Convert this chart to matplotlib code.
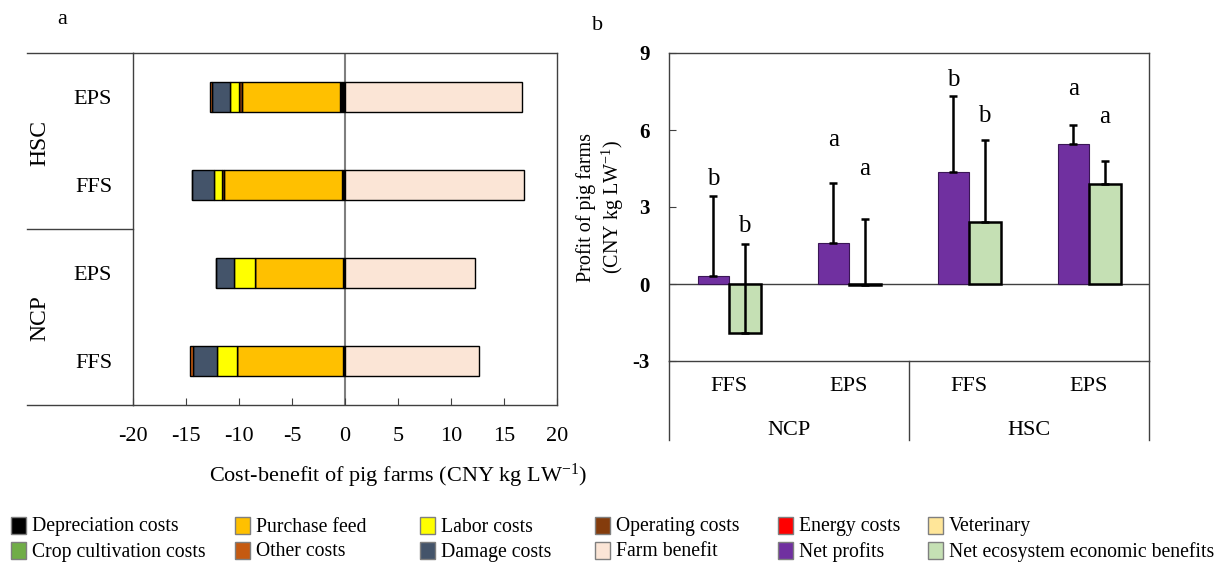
import numpy as np
import matplotlib
matplotlib.use("Agg")
import matplotlib.pyplot as plt
from matplotlib.patches import Rectangle

plt.rcParams['font.family'] = ['Liberation Serif', 'DejaVu Serif']
plt.rcParams['mathtext.fontset'] = 'custom'
plt.rcParams['mathtext.rm'] = 'Liberation Serif'
plt.rcParams['mathtext.it'] = 'Liberation Serif:italic'
plt.rcParams['axes.unicode_minus'] = False

# ---- panel a: cost / benefit per farm type (rows bottom to top) ----
rows_a = ["FFS", "EPS", "FFS", "EPS"]
regions_a = ["NCP", "HSC"]
depreciation = [0.15, 0.20, 0.32, 0.45]
purchase_feed = [10.05, 8.30, 11.05, 9.30]
energy = [0.0, 0.0, 0.0, 0.0]
operating = [0.0, 0.0, 0.23, 0.28]
labor = [1.90, 2.00, 0.72, 0.79]
veterinary = [0.0, 0.0, 0.0, 0.0]
crop_cultivation = [0.0, 0.0, 0.0, 0.0]
damage = [2.27, 1.70, 2.15, 1.74]
other = [0.22, 0.0, 0.0, 0.22]
farm_benefit = [12.66, 12.26, 16.93, 16.68]

# ---- panel b: profits ----
sites_b = ["FFS", "EPS", "FFS", "EPS"]
regions_b = ["NCP", "HSC"]
net_profit = [0.30, 1.58, 4.35, 5.47]
net_profit_sd = [3.14, 2.37, 2.96, 0.71]
neeb = [-1.90, -0.03, 2.40, 3.91]
neeb_sd = [3.47, 2.56, 3.22, 0.87]
profit_letters = ["b", "a", "b", "a"]
neeb_letters = ["b", "a", "b", "a"]

colors = {
    "Depreciation costs": "#000000",
    "Purchase feed": "#FFC000",
    "Labor costs": "#FFFF00",
    "Operating costs": "#843C0C",
    "Energy costs": "#FF0000",
    "Veterinary": "#FFE699",
    "Crop cultivation costs": "#70AD47",
    "Other costs": "#C55A11",
    "Damage costs": "#44546A",
    "Farm benefit": "#FBE5D6",
    "Net profits": "#7030A0",
    "Net ecosystem economic benefits": "#C5E0B4",
}

W, H = 1222, 564
fig = plt.figure(figsize=(W / 100, H / 100), dpi=100)


def fx(px):
    return px / W


def fy(py):
    return 1 - py / H


frame = '#404040'

# ================= panel a =================
ax_a = fig.add_axes([fx(133), fy(405), fx(557) - fx(133), fy(53) - fy(405)])
y = np.arange(len(rows_a))
cost_series = [
    (depreciation, "Depreciation costs"),
    (purchase_feed, "Purchase feed"),
    (energy, "Energy costs"),
    (operating, "Operating costs"),
    (labor, "Labor costs"),
    (veterinary, "Veterinary"),
    (crop_cultivation, "Crop cultivation costs"),
    (damage, "Damage costs"),
    (other, "Other costs"),
]
left = np.zeros(len(rows_a))
for vals, name in cost_series:
    vals = np.array(vals)
    if vals.sum() == 0:
        continue
    ax_a.barh(y, -vals, left=left, height=0.34, color=colors[name],
              edgecolor='black', linewidth=1, zorder=2)
    left = left - vals
ax_a.barh(y, farm_benefit, left=0, height=0.34, color=colors["Farm benefit"],
          edgecolor='black', linewidth=1, zorder=2)
ax_a.axvline(0, color='#7f7f7f', lw=1.5, zorder=1)

ax_a.set_xlim(-20, 20)
ax_a.set_ylim(-0.5, 3.5)
ax_a.set_xticks(range(-20, 21, 5))
ax_a.set_yticks(y)
ax_a.set_yticklabels(rows_a)
ax_a.tick_params(axis='x', direction='in', length=5, pad=16, labelsize=16, color=frame)
ax_a.tick_params(axis='y', length=0, pad=15, labelsize=16)
for sp in ax_a.spines.values():
    sp.set_color(frame)
    sp.set_linewidth(1)

# group label strip on the left
for yy in (0, 0.5, 1):
    ax_a.plot([-0.25, 0], [yy, yy], transform=ax_a.transAxes, clip_on=False,
              color=frame, lw=1)
ax_a.text(-0.219, 0.247, regions_a[0], transform=ax_a.transAxes, rotation=90,
          ha='center', va='center', fontsize=17)
ax_a.text(-0.219, 0.744, regions_a[1], transform=ax_a.transAxes, rotation=90,
          ha='center', va='center', fontsize=17)
ax_a.text(0.625, -0.2, "Cost-benefit of pig farms (CNY kg LW$^{-1}$)",
          transform=ax_a.transAxes, ha='center', va='center', fontsize=16)
fig.text(fx(62), fy(20), "a", ha='center', va='center', fontsize=16)

# ================= panel b =================
ax_b = fig.add_axes([fx(669), fy(361), fx(1149) - fx(669), fy(53) - fy(361)])
x = np.arange(len(sites_b)) + 0.5
w = 0.2625
zeros = np.zeros(len(sites_b))
ax_b.bar(x - w / 2, net_profit, w, color=colors["Net profits"],
         edgecolor='#3a1656', linewidth=0.8, zorder=2)
ax_b.bar(x + w / 2, neeb, w, color=colors["Net ecosystem economic benefits"],
         edgecolor='black', linewidth=1.8, zorder=2)
ax_b.errorbar(x - w / 2, net_profit, yerr=[zeros, net_profit_sd], fmt='none',
              ecolor='black', elinewidth=1.8, capsize=3, capthick=1.8, zorder=3)
ax_b.errorbar(x + w / 2, neeb, yerr=[zeros, neeb_sd], fmt='none',
              ecolor='black', elinewidth=1.8, capsize=3, capthick=1.8, zorder=3)
ax_b.axhline(0, color=frame, lw=1, zorder=1)

# significance letters, gap above each error cap
profit_gap = [0.42, 1.43, 0.42, 1.18]
neeb_gap = [0.46, 1.70, 0.69, 1.50]
for i in range(len(sites_b)):
    ax_b.text(x[i] - w / 2, net_profit[i] + net_profit_sd[i] + profit_gap[i],
              profit_letters[i], ha='center', va='baseline', fontsize=18)
    ax_b.text(x[i] + w / 2, neeb[i] + neeb_sd[i] + neeb_gap[i],
              neeb_letters[i], ha='center', va='baseline', fontsize=18)

ax_b.set_xlim(0, 4)
ax_b.set_ylim(-3, 9)
ax_b.set_yticks([-3, 0, 3, 6, 9])
ax_b.set_xticks([])
ax_b.tick_params(axis='y', direction='in', length=5, pad=14, labelsize=15, color=frame)
for lbl in ax_b.get_yticklabels():
    lbl.set_fontweight('bold')
for sp in ax_b.spines.values():
    sp.set_color(frame)
    sp.set_linewidth(1)

# category strip under the plot
for xx in (0, 0.5, 1):
    ax_b.plot([xx, xx], [0, -0.256], transform=ax_b.transAxes, clip_on=False,
              color=frame, lw=1)
for i, s in enumerate(sites_b):
    ax_b.text(x[i] / 4, -0.084, s, transform=ax_b.transAxes,
              ha='center', va='center', fontsize=16)
for i, r in enumerate(regions_b):
    ax_b.text(0.25 + 0.5 * i, -0.227, r, transform=ax_b.transAxes,
              ha='center', va='center', fontsize=16)
ax_b.text(-0.142, 0.5, "Profit of pig farms\n(CNY kg LW$^{-1}$)",
          transform=ax_b.transAxes, rotation=90, ha='center', va='center',
          fontsize=14.5, linespacing=1.2)
fig.text(fx(598), fy(25), "b", ha='center', va='center', fontsize=16)

# ================= legend =================
legend_rows = [
    ["Depreciation costs", "Purchase feed", "Labor costs",
     "Operating costs", "Energy costs", "Veterinary"],
    ["Crop cultivation costs", "Other costs", "Damage costs",
     "Farm benefit", "Net profits", "Net ecosystem economic benefits"],
]
col_x = [11, 235, 420, 595, 778, 928]
row_y = [525, 550]
for r, names in enumerate(legend_rows):
    for c, name in enumerate(names):
        x0 = col_x[c]
        yc = row_y[r]
        fig.patches.append(Rectangle((fx(x0), fy(yc + 8.5)), fx(15), 17 / H,
                                     transform=fig.transFigure,
                                     facecolor=colors[name], edgecolor='#7f7f7f',
                                     linewidth=1))
        fig.text(fx(x0 + 21), fy(yc + 6.5), name, ha='left', va='baseline',
                 fontsize=14.2)

fig.savefig("out.png", dpi=100)
